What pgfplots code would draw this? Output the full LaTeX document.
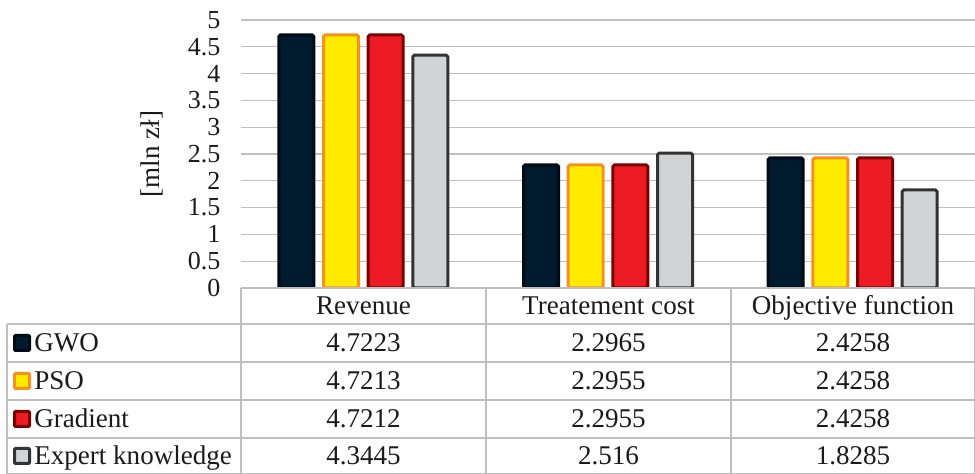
\documentclass[border=0pt]{standalone}
\usepackage{pgfplots}
\pgfplotsset{compat=1.18}
\usepackage{fontspec}
\setmainfont{Liberation Serif}
\definecolor{gwoF}{HTML}{001A2E}
\definecolor{gwoD}{HTML}{000A16}
\definecolor{psoF}{HTML}{FFEB00}
\definecolor{psoD}{HTML}{F7901E}
\definecolor{graF}{HTML}{ED1C24}
\definecolor{graD}{HTML}{7A0000}
\definecolor{expF}{HTML}{D1D3D4}
\definecolor{expD}{HTML}{333333}
\definecolor{gridc}{HTML}{BFBFBF}
\definecolor{txt}{HTML}{1A1A1A}
\newcommand{\tabfont}{\fontsize{20.3}{24}\selectfont}
\newcommand{\tickfont}{\fontsize{19.5}{23}\selectfont}
\begin{document}
\begin{tikzpicture}
\useasboundingbox (0,0) rectangle (731.25pt,355.5pt);
\begin{axis}[
  at={(180.75pt,139.5pt)}, anchor=south west,
  scale only axis, width=550.5pt, height=201pt,
  xmin=-0.5, xmax=2.5, ymin=0, ymax=5,
  ytick={0,0.5,1,1.5,2,2.5,3,3.5,4,4.5,5},
  xtick=\empty,
  ymajorgrids, grid style={gridc, line width=0.9pt},
  axis line style={draw=none},
  major tick length=0pt,
  /pgf/number format/assume math mode=true,
  yticklabel style={font=\tickfont, text=txt, xshift=-12pt},
  ylabel={[mln zł]},
  ylabel style={at={(axis description cs:-0.122,0.5)}, anchor=center, font=\tabfont, text=txt},
  ybar=7.25pt, bar width=26.25pt,
  every axis plot/.append style={line width=2.25pt, rounded corners=1.2pt},
]
\addplot[fill=gwoF, draw=gwoD] coordinates {(0,4.7223) (1,2.2965) (2,2.4258)};
\addplot[fill=psoF, draw=psoD] coordinates {(0,4.7213) (1,2.2955) (2,2.4258)};
\addplot[fill=graF, draw=graD] coordinates {(0,4.7212) (1,2.2955) (2,2.4258)};
\addplot[fill=expF, draw=expD] coordinates {(0,4.3445) (1,2.516) (2,1.8285)};
\end{axis}
\begin{scope}[x=0.75pt, y=0.75pt]
  \draw[gridc, line width=0.9pt] (241,186) -- (975,186);
  \foreach \yy in {150,112,74,36} {\draw[gridc, line width=0.9pt] (7,\yy) -- (975,\yy);}
  \draw[gridc, line width=0.9pt] (7,0.6) -- (975,0.6);
  \foreach \xx in {241,486,731,974.4} {\draw[gridc, line width=0.9pt] (\xx,186) -- (\xx,0);}
  \draw[gridc, line width=0.9pt] (7,150) -- (7,0);
  % header
  \foreach \xx/\t in {363.5/Revenue, 608.5/Treatement cost, 853/Objective function}
    {\node[anchor=base, inner sep=0, font=\tabfont, text=txt] at (\xx,159.4) {\t};}
  % rows
  \foreach \yy/\name/\fc/\dc/\a/\b/\c in {131/GWO/gwoF/gwoD/4.7223/2.2965/2.4258,
      93/PSO/psoF/psoD/4.7213/2.2955/2.4258,
      55/Gradient/graF/graD/4.7212/2.2955/2.4258,
      18/Expert knowledge/expF/expD/4.3445/2.516/1.8285} {
    \draw[fill=\fc, draw=\dc, line width=2.25pt, rounded corners=0.8pt] (14.5,\yy-7.5) rectangle (29.5,\yy+7.5);
    \node[anchor=base west, inner sep=0, font=\tabfont, text=txt] at (34,\yy-8.6) {\name};
    \node[anchor=base, inner sep=0, font=\tabfont, text=txt] at (363.5,\yy-8.6) {\a};
    \node[anchor=base, inner sep=0, font=\tabfont, text=txt] at (608.5,\yy-8.6) {\b};
    \node[anchor=base, inner sep=0, font=\tabfont, text=txt] at (853,\yy-8.6) {\c};
  }
\end{scope}
\end{tikzpicture}
\end{document}
